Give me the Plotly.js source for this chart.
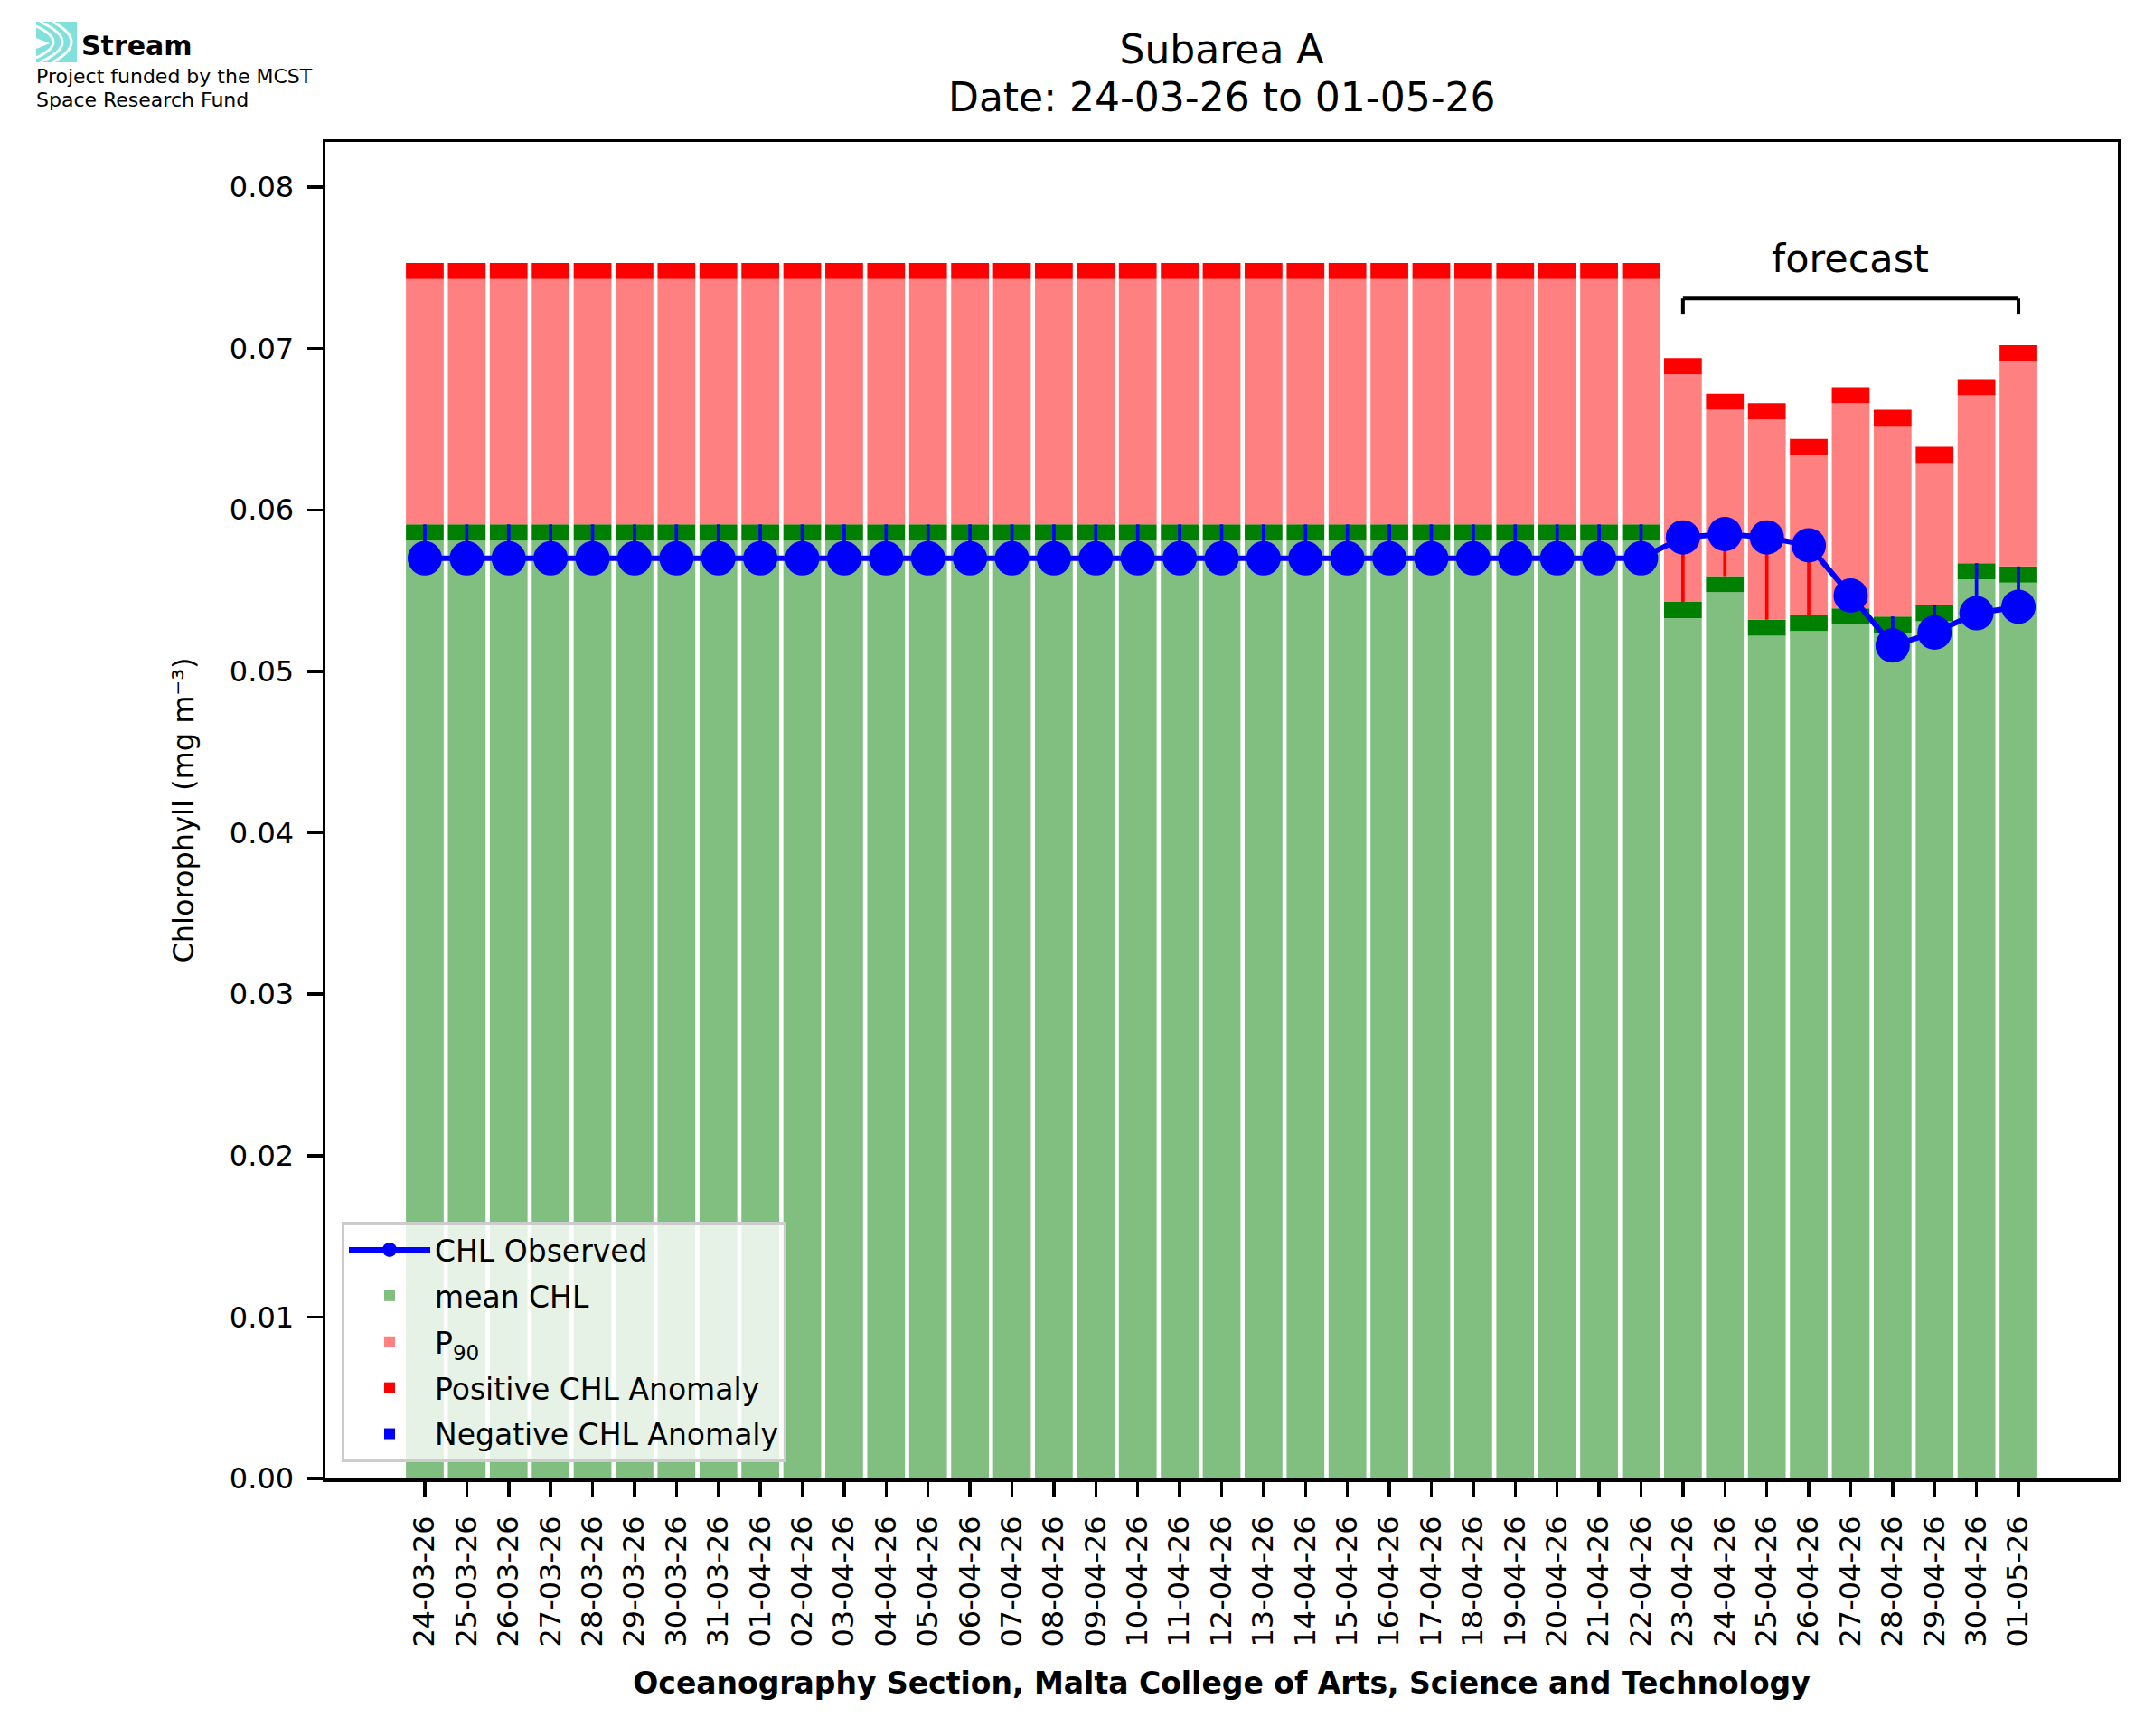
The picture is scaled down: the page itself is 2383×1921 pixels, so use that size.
<!DOCTYPE html>
<html>
<head>
<meta charset="utf-8">
<script src="https://cdn.plot.ly/plotly-3.0.1.min.js"></script>
<style>
  body { margin: 0; background: #ffffff; }
</style>
</head>
<body>
<div id="chart" style="width:2383px;height:1921px"></div>
<script>
// dates on the x axis (dd-mm-yy)
var dates = [
  "24-03-26", "25-03-26", "26-03-26", "27-03-26", "28-03-26", "29-03-26", "30-03-26", "31-03-26",
  "01-04-26", "02-04-26", "03-04-26", "04-04-26", "05-04-26", "06-04-26", "07-04-26", "08-04-26",
  "09-04-26", "10-04-26", "11-04-26", "12-04-26", "13-04-26", "14-04-26", "15-04-26", "16-04-26",
  "17-04-26", "18-04-26", "19-04-26", "20-04-26", "21-04-26", "22-04-26",
  "23-04-26", "24-04-26", "25-04-26", "26-04-26", "27-04-26", "28-04-26", "29-04-26", "30-04-26",
  "01-05-26"
];

// climatological mean CHL (mg m-3)
var meanChl = [
  0.0591, 0.0591, 0.0591, 0.0591, 0.0591, 0.0591, 0.0591, 0.0591,
  0.0591, 0.0591, 0.0591, 0.0591, 0.0591, 0.0591, 0.0591, 0.0591,
  0.0591, 0.0591, 0.0591, 0.0591, 0.0591, 0.0591, 0.0591, 0.0591,
  0.0591, 0.0591, 0.0591, 0.0591, 0.0591, 0.0591,
  0.0543, 0.0559, 0.0532, 0.0535, 0.0539, 0.0534, 0.0541, 0.0567,
  0.0565
];

// 90th percentile CHL
var p90Chl = [
  0.0753, 0.0753, 0.0753, 0.0753, 0.0753, 0.0753, 0.0753, 0.0753,
  0.0753, 0.0753, 0.0753, 0.0753, 0.0753, 0.0753, 0.0753, 0.0753,
  0.0753, 0.0753, 0.0753, 0.0753, 0.0753, 0.0753, 0.0753, 0.0753,
  0.0753, 0.0753, 0.0753, 0.0753, 0.0753, 0.0753,
  0.0694, 0.0672, 0.0666, 0.0644, 0.0676, 0.0662, 0.0639, 0.0681,
  0.0702
];

// observed / forecast CHL
var obsChl = [
  0.0570, 0.0570, 0.0570, 0.0570, 0.0570, 0.0570, 0.0570, 0.0570,
  0.0570, 0.0570, 0.0570, 0.0570, 0.0570, 0.0570, 0.0570, 0.0570,
  0.0570, 0.0570, 0.0570, 0.0570, 0.0570, 0.0570, 0.0570, 0.0570,
  0.0570, 0.0570, 0.0570, 0.0570, 0.0570, 0.0570,
  0.0583, 0.0585, 0.0583, 0.0578, 0.0547, 0.0516, 0.0524, 0.0536,
  0.0540
];

var firstForecast = "23-04-26";

// thickness of the dark edge drawn on top of the mean and P90 bars
var BAND = 0.001;

// plot area in pixels, used for the logo and texts outside the axes
var plotL = 360, plotR = 2343, plotT = 157, plotB = 1636;
function px(x) { return (x - plotL) / (plotR - plotL); }
function py(y) { return (plotB - y) / (plotB - plotT); }

// build the stacked pieces of each bar
var meanLow = [], p90Mid = [], p90Base = [], bandY = [];
var posAnom = [], negAnom = [];
for (var i = 0; i < dates.length; i++) {
  meanLow.push(meanChl[i] - BAND);
  p90Mid.push(p90Chl[i] - BAND - meanChl[i]);
  p90Base.push(p90Chl[i] - BAND);
  bandY.push(BAND);
  var d = obsChl[i] - meanChl[i];
  posAnom.push(d > 0 ? d : null);
  negAnom.push(d < 0 ? d : null);
}

var barW = 0.9;
var anomW = 0.08;

var observed = {
  type: "scatter", mode: "lines+markers", name: "CHL Observed",
  x: dates, y: obsChl, legendgroup: "g1",
  line: {color: "#0000ff", width: 6},
  marker: {color: "#0000ff", size: 38}
};
var meanBar = {
  type: "bar", name: "mean CHL", x: dates, y: meanLow, base: 0,
  width: barW, legendgroup: "g2",
  marker: {color: "#80bf80", line: {width: 0}}
};
var meanEdge = {
  type: "bar", name: "mean edge", x: dates, y: bandY, base: meanLow,
  width: barW, showlegend: false,
  marker: {color: "#008000", line: {width: 0}}
};
var p90Bar = {
  type: "bar", name: "P<sub>90</sub>", x: dates, y: p90Mid, base: meanChl,
  width: barW, legendgroup: "g3",
  marker: {color: "#ff8080", line: {width: 0}}
};
var p90Edge = {
  type: "bar", name: "P90 edge", x: dates, y: bandY, base: p90Base,
  width: barW, showlegend: false,
  marker: {color: "#ff0000", line: {width: 0}}
};
var posBar = {
  type: "bar", name: "Positive CHL Anomaly", x: dates, y: posAnom, base: meanChl,
  width: anomW, legendgroup: "g4",
  marker: {color: "#ff0000", line: {width: 0}}
};
var negBar = {
  type: "bar", name: "Negative CHL Anomaly", x: dates, y: negAnom, base: meanChl,
  width: anomW, legendgroup: "g5",
  marker: {color: "#0000ff", line: {width: 0}}
};

var data = [observed, meanBar, meanEdge, p90Bar, p90Edge, posBar, negBar];

// forecast bracket
var fStart = dates.indexOf(firstForecast);
var fEnd = dates.length - 1;
var bracketY = 0.0731, bracketDrop = 0.001;
var black = {color: "#000000", width: 4};

var cyan = "#80e0dc";
var shapes = [
  {type: "line", xref: "x", yref: "y", x0: fStart, x1: fStart, y0: bracketY - bracketDrop, y1: bracketY, line: black},
  {type: "line", xref: "x", yref: "y", x0: fStart, x1: fEnd, y0: bracketY, y1: bracketY, line: black},
  {type: "line", xref: "x", yref: "y", x0: fEnd, x1: fEnd, y0: bracketY - bracketDrop, y1: bracketY, line: black},
  // Stream logo icon
  {type: "rect", xref: "paper", yref: "paper", x0: px(40), x1: px(85), y0: py(69), y1: py(24),
   fillcolor: cyan, line: {width: 0}},
  {type: "path", xref: "paper", yref: "paper", fillcolor: "#ffffff", line: {width: 0},
   path: "M" + px(40) + "," + py(42) + " L" + px(55) + "," + py(48) + " L" + px(40) + "," + py(54) + " Z"},
  {type: "path", xref: "paper", yref: "paper", line: {color: "#ffffff", width: 3},
   path: "M" + px(40) + "," + py(29) + " Q" + px(78) + "," + py(46.5) + " " + px(40) + "," + py(64)},
  {type: "path", xref: "paper", yref: "paper", line: {color: "#ffffff", width: 3},
   path: "M" + px(44) + "," + py(24) + " Q" + px(94) + "," + py(46.5) + " " + px(44) + "," + py(69)},
  {type: "path", xref: "paper", yref: "paper", line: {color: "#ffffff", width: 3},
   path: "M" + px(58) + "," + py(24) + " Q" + px(100) + "," + py(46.5) + " " + px(58) + "," + py(69)}
];

var annotations = [
  {xref: "x", yref: "y", x: (fStart + fEnd) / 2, y: 0.0756, text: "forecast",
   showarrow: false, font: {size: 43, color: "#000000"}, yanchor: "middle"},
  {xref: "paper", yref: "paper", x: 0.5, y: py(107), text: "Date: 24-03-26 to 01-05-26",
   showarrow: false, font: {size: 44, color: "#000000"}, yanchor: "middle"},
  {xref: "paper", yref: "paper", x: px(88), y: py(51), text: "<b>Stream</b>",
   showarrow: false, xanchor: "left", yanchor: "middle",
   font: {size: 30, color: "#000000"}},
  {xref: "paper", yref: "paper", x: px(38), y: py(85), text: "Project funded by the MCST",
   showarrow: false, xanchor: "left", yanchor: "middle",
   font: {size: 22, color: "#000000"}},
  {xref: "paper", yref: "paper", x: px(38), y: py(110), text: "Space Research Fund",
   showarrow: false, xanchor: "left", yanchor: "middle",
   font: {size: 22, color: "#000000"}}
];

var layout = {
  width: 2383, height: 1921,
  margin: {l: plotL, r: 2383 - plotR, t: plotT, b: 1921 - plotB, autoexpand: false},
  paper_bgcolor: "#ffffff", plot_bgcolor: "#ffffff",
  font: {family: "DejaVu Sans", color: "#000000", size: 32},
  barmode: "overlay",
  showlegend: true,
  title: {
    text: "Subarea A", font: {size: 44, color: "#000000"},
    x: 0.5, xref: "paper", y: 1 - 55 / 1921, yref: "container", yanchor: "middle"
  },
  xaxis: {
    type: "category", categoryorder: "array", categoryarray: dates,
    range: [-2.37, 40.37],
    tickangle: -90, ticks: "outside", ticklen: 17, tickwidth: 3.5, tickcolor: "#000000",
    tickfont: {size: 32}, ticklabelstandoff: 8,
    showline: true, linewidth: 3.5, linecolor: "#000000", mirror: true,
    showgrid: false, zeroline: false,
    title: {
      text: "<b>Oceanography Section, Malta College of Arts, Science and Technology</b>",
      font: {size: 33}, standoff: 30
    }
  },
  yaxis: {
    range: [0, 0.0828],
    tickvals: [0, 0.01, 0.02, 0.03, 0.04, 0.05, 0.06, 0.07, 0.08],
    tickformat: ".2f",
    ticks: "outside", ticklen: 17, tickwidth: 3.5, tickcolor: "#000000",
    tickfont: {size: 32}, ticklabelstandoff: 8,
    showline: true, linewidth: 3.5, linecolor: "#000000", mirror: true,
    showgrid: false, zeroline: false,
    title: {text: "Chlorophyll (mg m⁻³)", font: {size: 32}, standoff: 30}
  },
  legend: {
    x: px(378), y: py(1618), xanchor: "left", yanchor: "bottom",
    bgcolor: "rgba(255,255,255,0.8)", bordercolor: "#cccccc", borderwidth: 3,
    font: {size: 33}, tracegroupgap: 5, itemwidth: 90
  },
  shapes: shapes,
  annotations: annotations
};

Plotly.newPlot("chart", data, layout, {displayModeBar: false, staticPlot: true});
</script>
</body>
</html>
